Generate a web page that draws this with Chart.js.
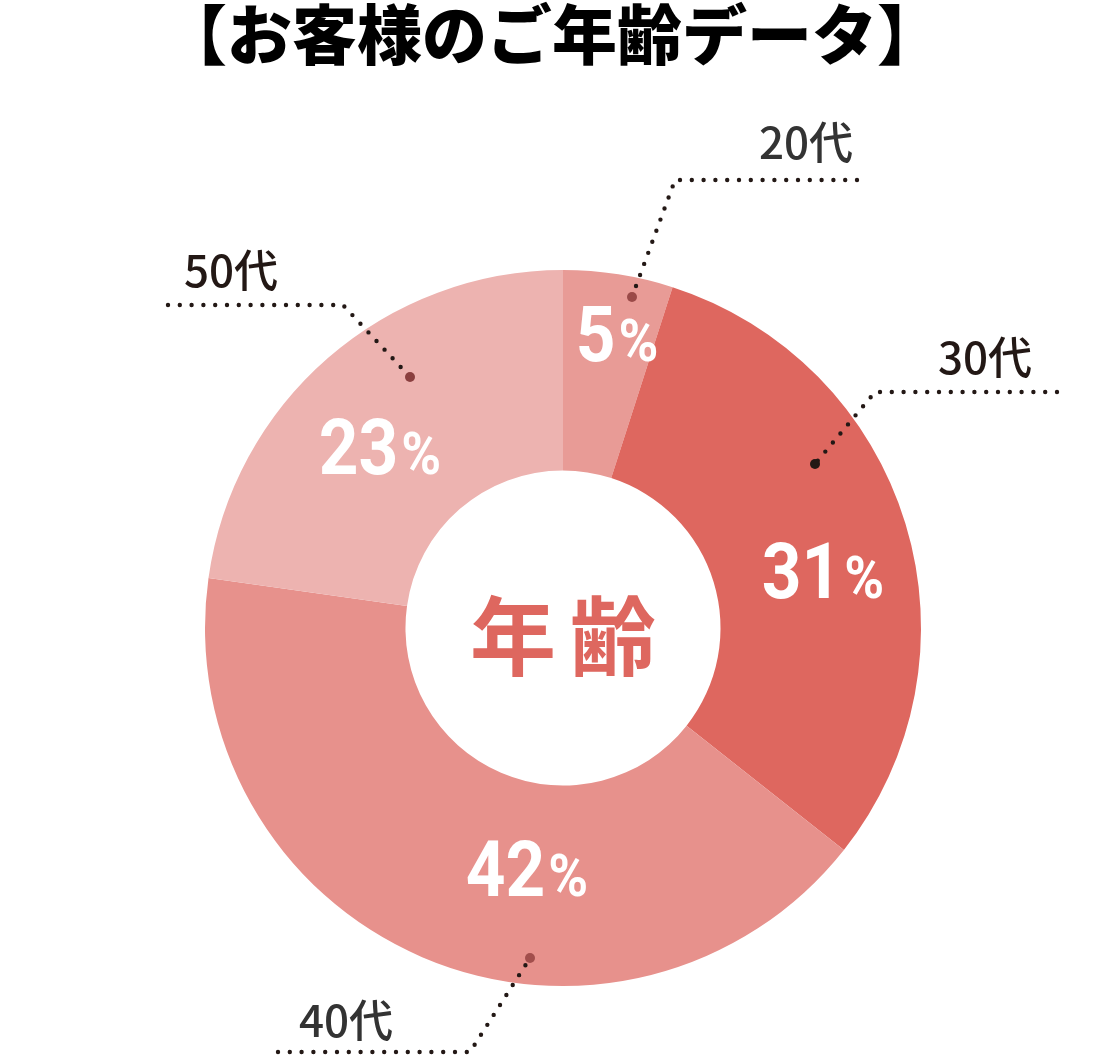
<!DOCTYPE html>
<html lang="ja">
<head>
<meta charset="utf-8">
<script src="https://cdn.jsdelivr.net/npm/chart.js@4"></script>
<style>
  html, body { margin: 0; padding: 0; background: #fff; }
  #wrap { width: 1100px; height: 1061px; position: relative; }
</style>
</head>
<body>
<div id="wrap"><canvas id="chart" width="1100" height="1061"></canvas></div>
<script>
const title = '【お客様のご年齢データ】';
const centerText = '年齢';
const categories = ['20代', '30代', '40代', '50代'];
const percents = [5, 31, 42, 23];
const sliceColors = ['#e89b96', '#de675f', '#e7918c', '#edb3b0'];

// label placement, relative to the doughnut centre (px at radius 358)
const R0 = 358;
const pctPos = [[54, -295], [260, -58], [-36, 240], [-183, -182]];
const leader = [
  { dot: [69, -331], elbow: [112, -448], end: 294, text: [243, -486], color: '#333333', dotColor: '#9a4a48' },
  { dot: [252, -164], elbow: [312, -236], end: 494, text: [422, -271], color: '#231815', dotColor: '#231815' },
  { dot: [-33, 330], elbow: [-93, 424], end: -285, text: [-217, 392], color: '#333333', dotColor: '#a24e4c' },
  { dot: [-153, -251], elbow: [-220, -323], end: -395, text: [-332, -358], color: '#231815', dotColor: '#8a3f3f' }
];

function squeezedText(ctx, txt, x, y, sx) {
  ctx.save();
  ctx.translate(x, y);
  ctx.scale(sx, 1);
  ctx.fillText(txt, 0, 0);
  ctx.restore();
}

const decor = {
  id: 'decor',
  afterDraw(chart) {
    const ctx = chart.ctx;
    const arc = chart.getDatasetMeta(0).data[0];
    const cx = arc.x, cy = arc.y, k = arc.outerRadius / R0;
    ctx.save();

    // title
    ctx.fillStyle = '#000';
    ctx.font = '900 65px "Noto Sans CJK JP"';
    ctx.textAlign = 'center';
    ctx.textBaseline = 'middle';
    ctx.fillText(title, 552, 34);

    // centre text
    ctx.fillStyle = '#de675f';
    ctx.font = 'bold 86px "Noto Sans CJK JP"';
    ctx.fillText(centerText[0], cx - 50 * k, cy + 8 * k);
    ctx.fillText(centerText[1], cx + 50 * k, cy + 8 * k);

    // percentage labels
    const sx = 0.9;
    const numFont = 'bold 77px Roboto';
    const pctFont = 'bold 60px Roboto';
    percents.forEach((p, i) => {
      const x = cx + pctPos[i][0] * k, y = cy + pctPos[i][1] * k;
      const num = String(p);
      ctx.font = numFont;
      const w1 = ctx.measureText(num).width * sx;
      ctx.font = pctFont;
      const w2 = ctx.measureText('%').width * sx;
      const left = x - (w1 + w2 + 3) / 2;
      ctx.fillStyle = '#fff';
      ctx.textAlign = 'left';
      ctx.textBaseline = 'alphabetic';
      ctx.font = numFont;
      squeezedText(ctx, num, left, y + 28, sx);
      ctx.font = pctFont;
      squeezedText(ctx, '%', left + w1 + 3, y + 28, sx);
    });

    // leader lines + category labels
    leader.forEach((l, i) => {
      const dx = cx + l.dot[0] * k, dy = cy + l.dot[1] * k;
      const ex = cx + l.elbow[0] * k, ey = cy + l.elbow[1] * k;
      const fx = cx + l.end * k;
      ctx.setLineDash([0, 11.8]);
      ctx.lineCap = 'round';
      ctx.lineWidth = 4.4;
      ctx.strokeStyle = '#231815';
      ctx.beginPath();
      ctx.moveTo(fx, ey);
      ctx.lineTo(ex, ey);
      ctx.lineTo(dx, dy);
      ctx.stroke();
      ctx.setLineDash([]);
      ctx.fillStyle = l.dotColor;
      ctx.beginPath();
      ctx.arc(dx, dy, 5, 0, Math.PI * 2);
      ctx.fill();

      ctx.fillStyle = l.color;
      ctx.font = '500 44px "Noto Sans CJK JP"';
      ctx.textAlign = 'center';
      ctx.textBaseline = 'middle';
      ctx.fillText(categories[i], cx + l.text[0] * k, cy + l.text[1] * k);
    });
    ctx.restore();
  }
};

new Chart(document.getElementById('chart'), {
  type: 'doughnut',
  data: {
    labels: categories,
    datasets: [{
      data: percents,
      backgroundColor: sliceColors,
      borderWidth: 0,
      hoverOffset: 0
    }]
  },
  options: {
    responsive: false,
    animation: false,
    cutout: '44%',
    layout: { padding: { left: 205, right: 179, top: 270, bottom: 75 } },
    plugins: {
      legend: { display: false },
      tooltip: { enabled: false }
    }
  },
  plugins: [decor]
});
</script>
</body>
</html>
